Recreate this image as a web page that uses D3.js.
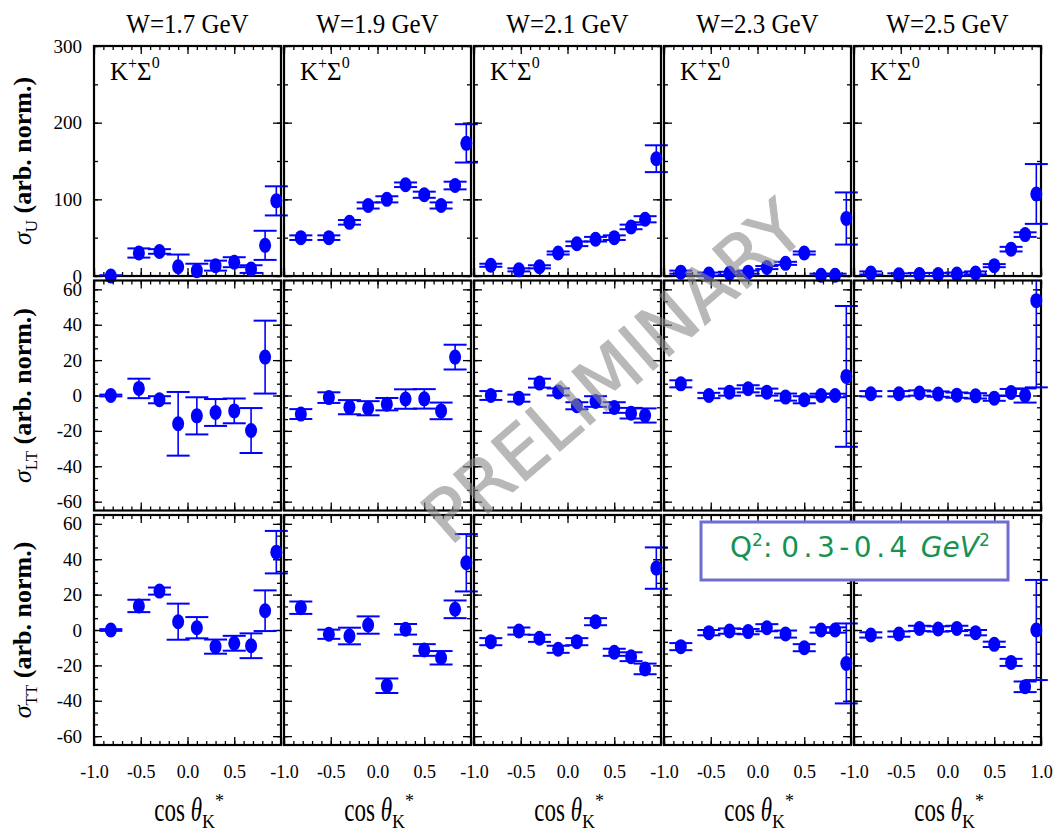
<!DOCTYPE html>
<html>
<head>
<meta charset="utf-8">
<script src="https://cdn.jsdelivr.net/npm/d3@7"></script>
<style>
  body { margin: 0; background: #fff; }
  svg { display: block; }
</style>
</head>
<body>
<svg id="chart" width="1055" height="832"></svg>
<script>
// ---- data -------------------------------------------------------------
const cosBins = [-0.82, -0.52, -0.30, -0.10, 0.10, 0.30, 0.50, 0.68, 0.83, 0.95];
const energyLabels = ["W=1.7 GeV", "W=1.9 GeV", "W=2.1 GeV", "W=2.3 GeV", "W=2.5 GeV"];
const xTickLabels = [-1.0, -0.5, 0.0, 0.5];
const xTickLabelsLast = [-1.0, -0.5, 0.0, 0.5, 1.0];
const yTicksU = [0, 100, 200, 300];
const yTicksInterf = [-60, -40, -20, 0, 20, 40, 60];

// sigma_U per W bin (value, error)
const sigU_W17 = [0, 30, 32, 12, 7, 13.5, 18, 9, 40, 98];
const sigU_W17_err = [1, 6, 3, 16, 9, 6.5, 6.5, 5, 19, 19];
const sigU_W19 = [50, 50, 70, 92, 100, 119, 106, 92, 118, 173];
const sigU_W19_err = [3, 3, 3, 4, 4, 3, 4, 4, 5, 25];
const sigU_W21 = [14, 8, 12, 30, 42, 48, 50, 64, 74, 153];
const sigU_W21_err = [2, 2, 2, 2, 3, 3, 3, 3, 4, 17.5];
const sigU_W23 = [5, 2.5, 3.5, 5, 11, 16.5, 30, 1, 1, 75];
const sigU_W23_err = [2, 2, 2, 2, 2, 2, 2, 2, 2, 34];
const sigU_W25 = [4, 1.5, 2, 2, 2.5, 4, 13.5, 35, 54, 107];
const sigU_W25_err = [2, 2, 2, 2, 2, 2, 2, 3, 3, 39];

// sigma_LT
const sigLT_W17 = [0, 4, -2.4, -16, -11.5, -9.6, -8.7, -19.8, 21.7, null];
const sigLT_W17_err = [0.5, 5.5, 2, 18, 10.5, 7.6, 7, 12.7, 20.6, null];
const sigLT_W19 = [-10.5, -1.2, -6.6, -7.2, -4.9, -2, -1.9, -8.7, 21.7, null];
const sigLT_W19_err = [2.8, 3, 4, 4, 3.5, 5.5, 5.5, 4.7, 7, null];
const sigLT_W21 = [0, -1.5, 7, 2, -5.8, -3.4, -6.8, -10, -11.3, null];
const sigLT_W21_err = [2.5, 2, 2.5, 2, 2, 3, 3, 3, 4, null];
const sigLT_W23 = [6.6, 0, 1.9, 3.8, 1.9, -0.9, -2.4, 0, 0, 10.8];
const sigLT_W23_err = [2, 1.5, 2, 2, 2, 2, 2, 1, 1, 39.8];
const sigLT_W25 = [1, 1, 1.4, 0.8, 0.2, -0.2, -1.5, 1.7, 0, 53.6];
const sigLT_W25_err = [1.5, 1.5, 1.5, 1.5, 1.5, 1.5, 1.5, 2, 4, 49];

// sigma_TT
const sigTT_W17 = [0, 13.6, 22, 4.7, 1.3, -9.4, -7.5, -8.9, 10.9, 44];
const sigTT_W17_err = [0.5, 3.5, 2, 10.2, 6, 4, 4.2, 7, 11.5, 12];
const sigTT_W19 = [12.6, -2.4, -3.4, 2.8, -31.5, 0.4, -11.3, -15.7, 11.7, 38];
const sigTT_W19_err = [3.5, 2.6, 4.7, 4.9, 4.1, 3, 3.3, 3.8, 5, 16.2];
const sigTT_W21 = [-6.6, -0.6, -4.7, -10.9, -6.6, 4.7, -12.6, -15.1, -22, 35];
const sigTT_W21_err = [2, 2, 2, 2, 2, 2, 2, 2.5, 3, 11.7];
const sigTT_W23 = [-9.4, -1.5, -0.6, -0.9, 1.3, -2.3, -10, 0, 0, -18.9];
const sigTT_W23_err = [2, 1.5, 1.5, 1.5, 2, 2, 2, 1.5, 1.5, 22.6];
const sigTT_W25 = [-2.8, -2.3, 0.9, 0.6, 0.9, -1.5, -8.1, -18.3, -32.1, 0];
const sigTT_W25_err = [1.5, 1.5, 1.5, 1.5, 1.5, 1.5, 1.5, 2, 3, 28.3];

const rows = [
  { sub: "U",  domain: [0, 300], major: yTicksU, minorStep: 50,
    vals: [sigU_W17, sigU_W19, sigU_W21, sigU_W23, sigU_W25],
    errs: [sigU_W17_err, sigU_W19_err, sigU_W21_err, sigU_W23_err, sigU_W25_err] },
  { sub: "LT", domain: [-65, 65], major: yTicksInterf, minorStep: 20 / 3,
    vals: [sigLT_W17, sigLT_W19, sigLT_W21, sigLT_W23, sigLT_W25],
    errs: [sigLT_W17_err, sigLT_W19_err, sigLT_W21_err, sigLT_W23_err, sigLT_W25_err] },
  { sub: "TT", domain: [-65, 65], major: yTicksInterf, minorStep: 20 / 3,
    vals: [sigTT_W17, sigTT_W19, sigTT_W21, sigTT_W23, sigTT_W25],
    errs: [sigTT_W17_err, sigTT_W19_err, sigTT_W21_err, sigTT_W23_err, sigTT_W25_err] }
];

// ---- fonts: pick the first installed Times-like face -------------------
function fontInstalled(name) {
  const ctx = document.createElement("canvas").getContext("2d");
  const probe = "W=1.7 GeV (arb. norm.) cos 0.5";
  return ["monospace", "sans-serif"].some(base => {
    ctx.font = `25px ${base}`;
    const w0 = ctx.measureText(probe).width;
    ctx.font = `25px "${name}", ${base}`;
    return ctx.measureText(probe).width !== w0;
  });
}
const serifCandidates = ["Liberation Serif", "Times New Roman", "Tinos", "Nimbus Roman",
  "TeX Gyre Termes", "FreeSerif", "DejaVu Serif", "Noto Serif", "Georgia"];
const serifFace = serifCandidates.find(fontInstalled);
const serif = serifFace ? `"${serifFace}", serif` : "serif";
const sans = "'DejaVu Sans', 'Liberation Sans', sans-serif";

// ---- layout ------------------------------------------------------------
const panelLeft0 = 94, panelW = 187, panelStep = 190;
const rowTop0 = 46, panelH = 230, rowStep = 234.5;
const blue = "#0000ff";

const svg = d3.select("#chart");
svg.append("rect").attr("width", 1055).attr("height", 832).attr("fill", "#fff");

const fmtX = d => d.toFixed(1);
const fmtY = d => String(d);

function cleanAxis(g) {
  g.select(".domain").remove();
  g.selectAll(".tick line").attr("stroke", "#000").attr("stroke-width", 1.3);
}

energyLabels.forEach((label, c) => {
  const left = panelLeft0 + c * panelStep;
  const x = d3.scaleLinear().domain([-1, 1]).range([left, left + panelW]);

  // column title
  svg.append("text")
    .attr("transform", `translate(${left + panelW / 2},33) scale(1,1.08)`)
    .attr("text-anchor", "middle")
    .style("font-family", serif).attr("font-size", 25)
    .text(label);

  rows.forEach((row, r) => {
    const top = rowTop0 + r * rowStep;
    const bottom = top + panelH;
    const y = d3.scaleLinear().domain(row.domain).range([bottom, top]);
    const g = svg.append("g");

    const xMajor = [-1, -0.5, 0, 0.5, 1];
    const xMinor = d3.range(-1, 1.0001, 0.1);
    const yMinor = d3.range(row.domain[0] <= -60 ? -60 : 0, row.domain[1] + 0.001, row.minorStep)
      .filter(v => v >= row.domain[0] && v <= row.domain[1]);

    // inward ticks on all four sides
    [[d3.axisBottom, bottom], [d3.axisTop, top]].forEach(([fn, pos]) => {
      g.append("g").attr("transform", `translate(0,${pos})`)
        .call(fn(x).tickValues(xMinor).tickSize(-4).tickFormat("")).call(cleanAxis);
      g.append("g").attr("transform", `translate(0,${pos})`)
        .call(fn(x).tickValues(xMajor).tickSize(-8).tickFormat("")).call(cleanAxis);
    });
    [[d3.axisLeft, left], [d3.axisRight, left + panelW]].forEach(([fn, pos]) => {
      g.append("g").attr("transform", `translate(${pos},0)`)
        .call(fn(y).tickValues(yMinor).tickSize(-4).tickFormat("")).call(cleanAxis);
      g.append("g").attr("transform", `translate(${pos},0)`)
        .call(fn(y).tickValues(row.major).tickSize(-8).tickFormat("")).call(cleanAxis);
    });

    // frame
    g.append("rect")
      .attr("x", left).attr("y", top).attr("width", panelW).attr("height", panelH)
      .attr("fill", "none").attr("stroke", "#000").attr("stroke-width", 2.2);

    // y tick labels on the first column only
    if (c === 0) {
      const ya = g.append("g").attr("transform", `translate(${left},0)`)
        .call(d3.axisLeft(y).tickValues(row.major).tickSize(0).tickPadding(12).tickFormat(fmtY));
      ya.select(".domain").remove();
      ya.selectAll("text").style("font-family", serif).attr("font-size", 19).attr("fill", "#000");
    }

    // x tick labels and title under the bottom row
    if (r === rows.length - 1) {
      const xa = g.append("g").attr("transform", `translate(0,${bottom})`)
        .call(d3.axisBottom(x).tickValues(c === energyLabels.length - 1 ? xTickLabelsLast : xTickLabels)
          .tickSize(0).tickPadding(20).tickFormat(fmtX));
      xa.select(".domain").remove();
      xa.selectAll("text").style("font-family", serif).attr("font-size", 18).attr("fill", "#000");

      const cx = left + panelW / 2;
      const t = svg.append("text")
        .attr("transform", `translate(${cx + 14.5},821) scale(1,1.45)`)
        .attr("text-anchor", "end")
        .style("font-family", serif).attr("font-size", 23);
      t.append("tspan").text("cos ");
      t.append("tspan").attr("font-style", "italic").text("θ");
      svg.append("text").attr("x", cx + 14.5).attr("y", 828)
        .style("font-family", serif).attr("font-size", 18).text("K");
      svg.append("text").attr("x", cx + 27.5).attr("y", 807)
        .style("font-family", serif).attr("font-size", 18).text("*");
    }

    // reaction label in the top row
    if (r === 0) {
      const k = g.append("text").attr("x", left + 16).attr("y", top + 34)
        .style("font-family", serif).attr("font-size", 25);
      k.append("tspan").text("K");
      k.append("tspan").attr("font-size", 16).attr("dy", -11).text("+");
      k.append("tspan").attr("dy", 11).text("Σ");
      k.append("tspan").attr("font-size", 16).attr("dy", -12).text("0");
    }

    // data: error bars then markers
    const pts = cosBins.map((b, i) => ({ b, v: row.vals[c][i], e: row.errs[c][i] }))
      .filter(p => p.v !== null);
    const [dMin, dMax] = row.domain;
    const capHalf = 11.5;
    pts.forEach(p => {
      const lo = p.v - p.e, hi = p.v + p.e;
      const px = x(p.b);
      g.append("line")
        .attr("x1", px).attr("x2", px)
        .attr("y1", y(Math.max(lo, dMin))).attr("y2", y(Math.min(hi, dMax)))
        .attr("stroke", blue).attr("stroke-width", 1.6);
      [lo, hi].forEach(v => {
        if (v >= dMin && v <= dMax) {
          g.append("line")
            .attr("x1", px - capHalf).attr("x2", px + capHalf)
            .attr("y1", y(v)).attr("y2", y(v))
            .attr("stroke", blue).attr("stroke-width", 2);
        }
      });
    });
    g.selectAll("ellipse.pt").data(pts).join("ellipse")
      .attr("class", "pt")
      .attr("cx", p => x(p.b)).attr("cy", p => y(p.v))
      .attr("rx", 6).attr("ry", 7.5)
      .attr("fill", blue);
  });
});

// y axis titles, one per row
rows.forEach((row, r) => {
  const cy = rowTop0 + r * rowStep + panelH / 2;
  const t = svg.append("text")
    .attr("transform", `translate(31,${cy}) rotate(-90)`)
    .attr("text-anchor", "middle")
    .style("font-family", serif).attr("font-size", 26);
  t.append("tspan").attr("font-style", "italic").text("σ");
  t.append("tspan").attr("font-size", 17).attr("dy", 6).text(row.sub);
  t.append("tspan").attr("dy", -6).attr("font-weight", "bold").text(" (arb. norm.)");
});

// preliminary watermark
svg.append("text")
  .attr("transform", "translate(613,372) rotate(-41)")
  .attr("text-anchor", "middle").attr("dominant-baseline", "central")
  .style("font-family", sans).attr("font-size", 72)
  .attr("fill", "#8a8a8a").attr("opacity", 0.6)
  .attr("stroke", "#8a8a8a").attr("stroke-width", 1)
  .text("PRELIMINARY");

// Q^2 range box
svg.append("rect")
  .attr("x", 701).attr("y", 522).attr("width", 307).attr("height", 58)
  .attr("fill", "#fff").attr("stroke", "#6e6ed2").attr("stroke-width", 3);
const q = svg.append("text")
  .attr("x", 730).attr("y", 557)
  .style("font-family", sans).attr("font-size", 28)
  .attr("fill", "#17924f");
q.append("tspan").text("Q");
q.append("tspan").attr("font-size", 17).attr("dy", -11).text("2");
q.append("tspan").attr("dy", 11).text(": ");
q.append("tspan").attr("letter-spacing", 4.5).text("0.3-0.4");
q.append("tspan").text(" ");
q.append("tspan").attr("font-style", "italic").text("GeV");
q.append("tspan").attr("font-size", 17).attr("dy", -11).text("2");
</script>
</body>
</html>
